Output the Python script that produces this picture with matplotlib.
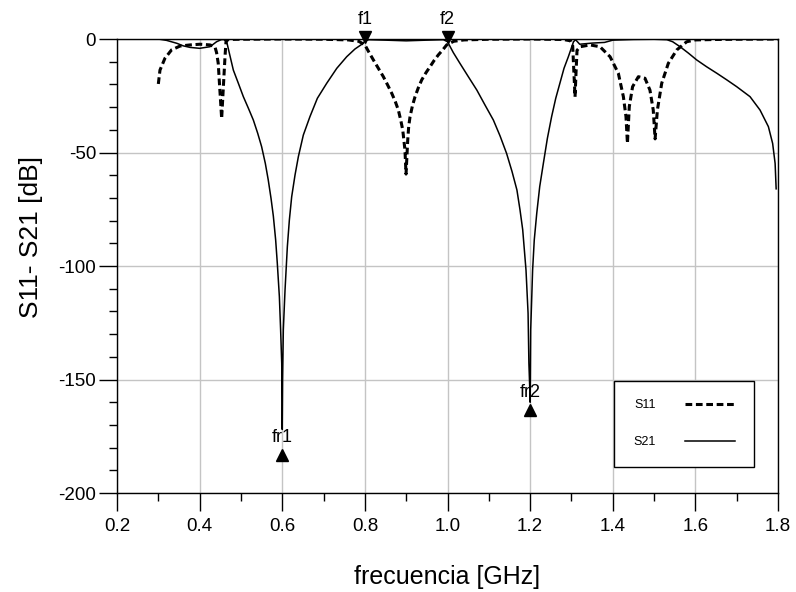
import matplotlib
matplotlib.use("Agg")
import matplotlib.pyplot as plt
from matplotlib.ticker import MultipleLocator

plt.rcParams['font.family'] = ['Liberation Sans', 'DejaVu Sans']

# S21 (solid): frequency [GHz], level [dB]
s21_f = [0.300, 0.320, 0.345, 0.360, 0.377, 0.400, 0.425, 0.441, 0.452, 0.458,
         0.4655, 0.472, 0.4816, 0.4937, 0.5058, 0.518, 0.530, 0.5405, 0.550, 0.559,
         0.566, 0.5728, 0.5784, 0.584, 0.588, 0.593, 0.596, 0.5987, 0.5997, 0.600,
         0.6008, 0.6026, 0.6067, 0.6123, 0.6172, 0.6228, 0.6309, 0.639, 0.651, 0.667,
         0.685, 0.7076, 0.732, 0.756, 0.776, 0.796, 0.800, 0.810, 0.850, 0.900,
         0.950, 0.990, 1.000, 1.0141, 1.030, 1.0504, 1.071, 1.0908, 1.111, 1.1272,
         1.143, 1.1562, 1.168, 1.1755, 1.182, 1.190, 1.195, 1.197, 1.1993, 1.200,
         1.2006, 1.2014, 1.206, 1.210, 1.216, 1.2232, 1.232, 1.2417, 1.252, 1.262,
         1.272, 1.282, 1.2925, 1.305, 1.310, 1.320, 1.350, 1.380, 1.400, 1.450,
         1.500, 1.531, 1.545, 1.563, 1.583, 1.603, 1.627, 1.652, 1.676, 1.700,
         1.7323, 1.7565, 1.7767, 1.787, 1.793, 1.7955]
s21_db = [0.0, -0.6, -1.9, -3.0, -3.7, -4.1, -3.4, -1.2, -0.3, -0.2,
          -1.2, -6.3, -13.7, -19.5, -25.4, -30.5, -35.7, -41.5, -47.4, -54.8,
          -62.0, -70.2, -78.0, -88.5, -98.8, -113.5, -128.0, -142.8, -160.0, -172.0,
          -150.0, -128.0, -110.6, -91.5, -79.7, -69.5, -59.9, -51.8, -42.3, -34.2,
          -26.1, -19.5, -12.9, -7.8, -4.4, -1.9, -0.8, -0.3, -0.5, -0.8,
          -0.5, -0.3, -1.2, -6.0, -10.7, -16.6, -22.5, -29.1, -35.7, -42.7,
          -50.4, -58.4, -66.5, -75.3, -84.0, -101.8, -120.8, -142.8, -155.0, -160.0,
          -150.0, -128.0, -101.8, -88.5, -76.8, -65.0, -54.8, -43.8, -34.2, -26.1,
          -19.5, -12.9, -7.8, -1.2, -0.3, -2.3, -1.8, -1.5, -0.5, -0.2,
          -0.1, -0.3, -1.2, -3.4, -6.2, -9.2, -12.2, -15.1, -18.0, -21.0,
          -25.4, -31.3, -38.6, -46.0, -54.8, -66.0]

# S11 (dashed)
s11_f = [0.300, 0.304, 0.316, 0.332, 0.3525, 0.377, 0.401, 0.425, 0.437, 0.441,
         0.445, 0.449, 0.4533, 0.457, 0.4614, 0.4638, 0.469, 0.500, 0.600, 0.700,
         0.760, 0.785, 0.800, 0.810, 0.8205, 0.8326, 0.8447, 0.8552, 0.865, 0.8737,
         0.881, 0.8867, 0.8916, 0.897, 0.8996, 0.9037, 0.906, 0.9093, 0.915, 0.9214,
         0.9295, 0.9376, 0.948, 0.9577, 0.9674, 0.9778, 0.9884, 0.998, 1.015, 1.040,
         1.100, 1.200, 1.280, 1.298, 1.303, 1.306, 1.3087, 1.311, 1.3135, 1.321,
         1.345, 1.369, 1.3935, 1.4135, 1.4257, 1.432, 1.4355, 1.440, 1.448, 1.462,
         1.478, 1.490, 1.498, 1.5025, 1.508, 1.5185, 1.5345, 1.555, 1.579, 1.600,
         1.650, 1.700, 1.800]
s11_db = [-19.8, -13.7, -8.5, -4.8, -3.1, -2.6, -2.3, -2.6, -3.4, -6.0,
          -10.7, -22.5, -35.0, -22.5, -7.8, -1.2, -0.2, -0.1, 0.0, -0.1,
          -0.4, -1.0, -2.6, -5.9, -9.2, -12.9, -16.6, -20.3, -23.9, -27.6,
          -31.3, -35.7, -40.0, -48.9, -59.5, -44.5, -38.6, -34.2, -29.5, -25.4,
          -21.4, -18.0, -14.8, -12.2, -9.5, -7.0, -4.8, -2.6, -1.0, -0.4,
          -0.1, 0.0, -0.2, -0.8, -3.0, -15.0, -25.5, -15.0, -5.0, -3.4,
          -2.6, -3.4, -7.8, -15.1, -25.4, -34.2, -46.0, -29.8, -21.0, -16.6,
          -17.3, -22.5, -31.3, -44.0, -31.3, -19.5, -10.7, -4.8, -1.2, -0.4,
          -0.2, -0.1, 0.0]

# markers
pass_names = ['f1', 'f2']
pass_f = [0.8, 1.0]
pass_db = [0.9, 0.9]
stop_names = ['fr1', 'fr2']
stop_f = [0.6, 1.2]
stop_db = [-183.3, -163.4]

fig = plt.figure(figsize=(7.96, 5.92), dpi=100)
ax = fig.add_axes([0.147, 0.1672, 0.8304, 0.7669])

ax.plot(s11_f, s11_db, color='black', lw=2.2, ls=(0, (2.2, 1.2)), label='S11', zorder=3)
ax.plot(s21_f, s21_db, color='black', lw=1.1, ls='-', label='S21', zorder=3)

ax.plot(pass_f, pass_db, 'v', color='black', ms=9, clip_on=False, zorder=5)
for name, f, db in zip(pass_names, pass_f, pass_db):
    ax.text(f, db + 4.0, name, ha='center', va='bottom', fontsize=13, clip_on=False)
ax.plot(stop_f, stop_db, '^', color='black', ms=9, zorder=5)
for name, f, db in zip(stop_names, stop_f, stop_db):
    ax.text(f, db + 4.0, name, ha='center', va='bottom', fontsize=13)

ax.set_xlim(0.2, 1.8)
ax.set_ylim(-200, 0)
ax.xaxis.set_minor_locator(MultipleLocator(0.1))
ax.yaxis.set_minor_locator(MultipleLocator(10))
ax.set_xticks([0.2, 0.4, 0.6, 0.8, 1.0, 1.2, 1.4, 1.6, 1.8])
ax.set_xticklabels(['0.2', '0.4', '0.6', '0.8', '1.0', '1.2', '1.4', '1.6', '1.8'])
ax.set_yticks([0, -50, -100, -150, -200])
ax.set_yticklabels(['0', '-50', '-100', '-150', '-200'])
ax.tick_params(which='major', direction='out', length=13, width=1, labelsize=13.5,
               colors='black')
ax.tick_params(axis='x', which='major', pad=5)
ax.tick_params(axis='y', which='major', pad=2)
ax.tick_params(which='minor', direction='out', length=6, width=1)
ax.grid(True, which='major', color='#c4c4c4', lw=1.0)
ax.set_axisbelow(True)
for sp in ax.spines.values():
    sp.set_color('black')
    sp.set_linewidth(1.0)

ax.set_xlabel('frecuencia [GHz]', fontsize=18)
ax.set_ylabel('S11- S21 [dB]', fontsize=19)
ax.xaxis.set_label_coords(0.5, -0.158)
ax.yaxis.set_label_coords(-0.112, 0.564)

leg = ax.legend(loc='lower right', bbox_to_anchor=(0.964, 0.057), markerfirst=False,
                fontsize=9, handlelength=4.0, handletextpad=2.4, labelspacing=2.0,
                borderpad=1.5, borderaxespad=0, fancybox=False, framealpha=1,
                edgecolor='black')
leg.get_frame().set_linewidth(1.0)

fig.savefig('out.png', dpi=100, facecolor='white')
